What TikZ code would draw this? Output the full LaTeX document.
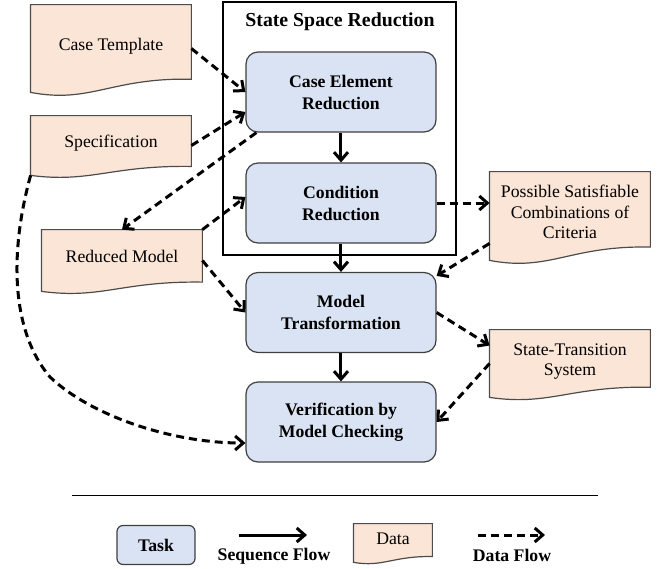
\documentclass[tikz,border=0pt]{standalone}
\usepackage{fontspec}
\setmainfont{Liberation Serif}
\usetikzlibrary{arrows.meta,calc,backgrounds}

\definecolor{taskfill}{HTML}{DAE3F3}
\definecolor{datafill}{HTML}{FBE5D6}
\definecolor{taskline}{HTML}{404040}

% wavy document outline behind a data node
\newcommand{\docwave}[1]{%
  \begin{scope}[on background layer]
    \path[datadoc] let \p1=($(#1.north)-(#1.south)$) in
      (#1.north west) -- (#1.north east) -- ([yshift=0.15*\y1]#1.south east)
      .. controls ($(#1.south west)!0.5!(#1.south east)+(0pt,0.17*\y1)$)
      and ($(#1.south west)!0.375!(#1.south east)+(0pt,-0.13*\y1)$)
      .. (#1.south west) -- cycle;
  \end{scope}}

\begin{document}
\begin{tikzpicture}[x=0.5pt,y=-0.5pt,
    task/.style={rectangle,rounded corners=6pt,draw=taskline,fill=taskfill,line width=0.6pt,
      minimum width=95pt,minimum height=40pt,align=center,font=\bfseries\fontsize{8.85}{11}\selectfont},
    data/.style={rectangle,minimum width=80pt,inner sep=1pt,text depth=4pt,align=center,font=\fontsize{8.85}{10.25}\selectfont},
    datadoc/.style={draw=black!70,fill=datafill,line width=0.6pt},
    seqflow/.style={-{Straight Barb[length=4pt,width=7pt]},line width=1.5pt},
    dataflow/.style={seqflow,dash pattern=on 4pt off 2.5pt},
    frame/.style={draw,line width=1.3pt}]

    \useasboundingbox (0,0) rectangle (661,569);

    \draw[frame] (223,2) rectangle (456,255);
    \node[font=\bfseries\fontsize{9.9}{12}\selectfont] (title) at (340,22) {State Space Reduction};

    \node[task] (cer) at (341,92) {Case Element\\Reduction};
    \node[task] (cond) at (341,203) {Condition\\Reduction};
    \node[task] (trans) at (341,312.5) {Model\\Transformation};
    \node[task] (verif) at (341,422) {Verification by\\Model Checking};

    \node[data,minimum height=43.5pt] (tmpl) at (111,48.5) {Case Template};
    \node[data,minimum height=29.5pt] (spec) at (111,145.5) {Specification};
    \node[data,minimum height=30.5pt] (redm) at (122,260.5) {Reduced Model};
    \node[data,minimum height=44pt] (pscc) at (570,216) {Possible Satisfiable\\Combinations of\\Criteria};
    \node[data,minimum height=33.5pt] (sts) at (570,363.5) {State-Transition\\System};
    \docwave{tmpl}
    \docwave{spec}
    \docwave{redm}
    \docwave{pscc}
    \docwave{sts}

    \path[seqflow]
    {
        (cer) edge (cond)
        (cond) edge (trans)
        (trans) edge (verif)
    };

    \path[dataflow]
    {
        (tmpl.east) edge (cer.west)
        (spec.east) edge ([yshift=-10pt]cer.west)
        ([xshift=5.5pt]cer.south west) edge (redm.north)
        (redm.north east) edge ([yshift=3pt]cond.west)
        (redm.east) edge (trans.west)
        (cond.east) edge (cond.east -| pscc.west)
        ([yshift=8.5pt]pscc.south west) edge ([yshift=-2pt]trans.north east)
        (trans.east) edge ([yshift=9pt]sts.west)
        (sts.west) edge (verif.east)
    };
    \draw[dataflow] (spec.south west) .. controls (10,250) and (10,330) .. (50,377)
        .. controls (90,415) and (170,443) .. ([yshift=-10.5pt]verif.west);

    % legend
    \coordinate (ruleA) at (72,495);
    \coordinate (ruleB) at (598,495);
    \draw[line width=0.5pt] (ruleA) -- (ruleB);

    \node[task,minimum width=39pt,minimum height=19.5pt,rounded corners=3pt] (ltask) at (156,545) {Task};
    \coordinate (seqA) at (239,535);
    \coordinate (seqB) at (307,535);
    \draw[seqflow] (seqA) -- (seqB);
    \node[font=\bfseries\fontsize{8.85}{11}\selectfont] (lseq) at (274,556) {Sequence Flow};

    \node[data,minimum width=39pt,minimum height=19pt] (ldata) at (393,543) {Data};
    \docwave{ldata}
    \coordinate (dfA) at (478,535);
    \coordinate (dfB) at (545,535);
    \draw[dataflow] (dfA) -- (dfB);
    \node[font=\bfseries\fontsize{8.85}{11}\selectfont] (ldf) at (512,555) {Data Flow};
\end{tikzpicture}
\end{document}
